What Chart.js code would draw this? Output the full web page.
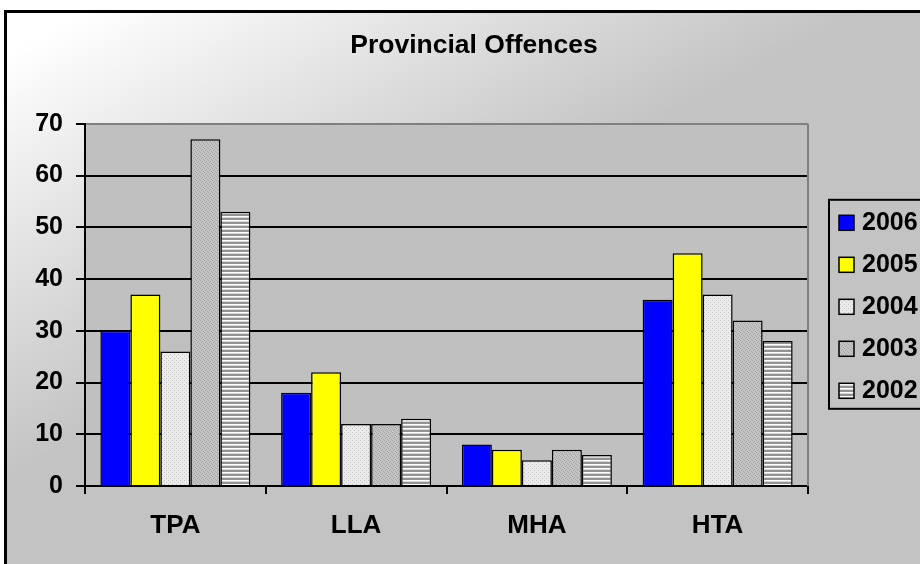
<!DOCTYPE html>
<html>
<head>
<meta charset="utf-8">
<script src="https://cdn.jsdelivr.net/npm/chart.js@4/dist/chart.umd.min.js"></script>
<style>
  html, body { margin: 0; padding: 0; background: #fff; overflow: hidden; }
  #wrap { width: 920px; height: 564px; overflow: hidden; }
  canvas { display: block; }
</style>
</head>
<body>
<div id="wrap"><canvas id="myChart" width="948" height="600"></canvas></div>
<script>
const categories = ['TPA', 'LLA', 'MHA', 'HTA']
const years = ['2006', '2005', '2004', '2003', '2002']
const values2006 = [30, 18, 8, 36]
const values2005 = [37, 22, 7, 45]
const values2004 = [26, 12, 5, 37]
const values2003 = [67, 12, 7, 32]
const values2002 = [53, 13, 6, 28]
const yTicks = [0, 10, 20, 30, 40, 50, 60, 70]

const FONT = 'Arial, "Liberation Sans", sans-serif'

// small tiles for the Excel-like fill patterns
function makePattern(size, base, draw) {
  const c = document.createElement('canvas')
  c.width = size
  c.height = size
  const g = c.getContext('2d')
  g.fillStyle = base
  g.fillRect(0, 0, size, size)
  draw(g)
  return c.getContext('2d').createPattern(c, 'repeat')
}

const dotsLight = makePattern(4, '#ebebeb', g => {
  g.fillStyle = '#c4c4c4'
  g.fillRect(0, 0, 1, 1)
  g.fillRect(2, 2, 1, 1)
})
const dotsGrey = makePattern(4, '#c4c4c4', g => {
  g.fillStyle = '#a4a4a4'
  g.fillRect(0, 0, 1, 1)
  g.fillRect(2, 1, 1, 1)
  g.fillRect(1, 2, 1, 1)
  g.fillRect(3, 3, 1, 1)
})
const stripes = makePattern(4, '#939393', g => {
  g.fillStyle = '#ffffff'
  g.fillRect(0, 0, 4, 1)
  g.fillStyle = '#d8d8d8'
  g.fillRect(0, 1, 4, 1)
})

const fills = ['#0000ff', '#ffff00', dotsLight, dotsGrey, stripes]
const series = [values2006, values2005, values2004, values2003, values2002]

const datasets = years.map((y, i) => ({
  label: y,
  data: series[i],
  backgroundColor: fills[i],
  borderColor: '#000',
  borderWidth: 1.5,
  categoryPercentage: 0.83,
  barPercentage: 1.0
}))

// legend as its own layout box on the right
const legendBox = {
  position: 'right',
  weight: 0,
  fullSize: false,
  options: {},
  isHorizontal() { return false },
  getPadding() { return { top: 0, left: 0, right: 0, bottom: 0 } },
  update(maxWidth, maxHeight) {
    this.width = 140
    this.height = maxHeight
  },
  draw() {
    const chart = this.chart
    const ctx = chart.ctx
    ctx.save()
    ctx.lineWidth = 2
    ctx.strokeStyle = '#000'
    ctx.strokeRect(this.left + 21, this.top + 76, 112, 209)
    ctx.font = 'bold 25px ' + FONT
    ctx.textBaseline = 'middle'
    ctx.textAlign = 'left'
    chart.data.datasets.forEach((d, i) => {
      const cy = this.top + 99 + i * 42
      ctx.fillStyle = d.backgroundColor
      ctx.fillRect(this.left + 31, cy - 7.5, 15, 15)
      ctx.lineWidth = 1.5
      ctx.strokeRect(this.left + 31, cy - 7.5, 15, 15)
      ctx.fillStyle = '#000'
      ctx.fillText(d.label, this.left + 54, cy)
    })
    ctx.restore()
  }
}

const chartBackground = {
  id: 'chartBackground',
  afterInit(chart) {
    legendBox.chart = chart
    Chart.layouts.addBox(chart, legendBox)
  },
  beforeDraw(chart) {
    const { ctx, chartArea: a } = chart
    ctx.save()
    ctx.fillStyle = '#fff'
    ctx.fillRect(0, 0, chart.width, chart.height)
    const g = ctx.createLinearGradient(24, 44, 204, 373)
    g.addColorStop(0, '#ffffff')
    g.addColorStop(1, '#c3c3c3')
    ctx.fillStyle = g
    ctx.fillRect(5, 10, chart.width, chart.height)
    ctx.lineWidth = 3
    ctx.strokeStyle = '#000'
    ctx.strokeRect(5.5, 11.5, chart.width, chart.height)
    ctx.fillStyle = '#c0c0c0'
    ctx.fillRect(a.left, a.top, a.right - a.left, a.bottom - a.top)
    ctx.restore()
  },
  beforeDatasetsDraw(chart) {
    const { ctx, chartArea: a } = chart
    ctx.save()
    ctx.strokeStyle = '#808080'
    ctx.lineWidth = 2
    ctx.beginPath()
    ctx.moveTo(a.right, a.top)
    ctx.lineTo(a.right, a.bottom)
    ctx.stroke()
    ctx.restore()
  }
}

const ctx = document.getElementById('myChart')

const myChart = new Chart(ctx, {
  type: 'bar',
  data: {
    labels: categories,
    datasets: datasets
  },
  options: {
    responsive: false,
    animation: false,
    devicePixelRatio: 1,
    layout: { padding: 0 },
    plugins: {
      legend: { display: false },
      tooltip: { enabled: false },
      title: {
        display: true,
        text: 'Provincial Offences',
        color: '#000',
        font: { family: FONT, size: 26.5, weight: 'bold' },
        padding: { top: 30, bottom: 62 }
      }
    },
    scales: {
      x: {
        offset: true,
        afterFit(scale) { scale.height = 114 },
        grid: {
          offset: true,
          drawOnChartArea: false,
          color: '#000',
          lineWidth: 2,
          tickLength: 8
        },
        border: { color: '#000', width: 2 },
        ticks: {
          color: '#000',
          padding: 16,
          font: { family: FONT, size: 26, weight: 'bold' }
        }
      },
      y: {
        min: yTicks[0],
        max: yTicks[yTicks.length - 1],
        afterFit(scale) { scale.width = 85 },
        grid: {
          color: c => (c.tick && c.tick.value === 70 ? '#808080' : '#000'),
          tickColor: '#000',
          lineWidth: 2,
          tickLength: 9
        },
        border: { color: '#000', width: 2 },
        ticks: {
          stepSize: 10,
          color: '#000',
          padding: 13,
          font: { family: FONT, size: 25, weight: 'bold' }
        }
      }
    }
  },
  plugins: [chartBackground]
})
</script>
</body>
</html>
